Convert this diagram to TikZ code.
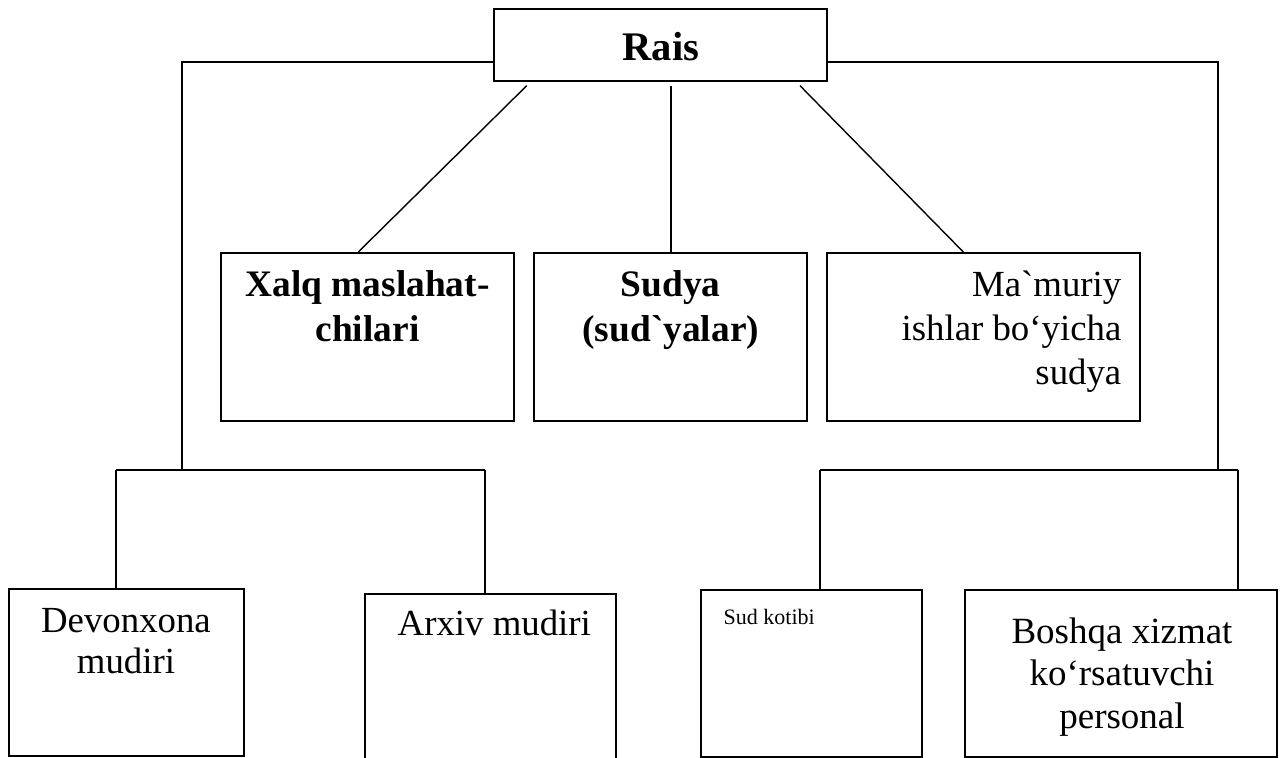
\documentclass[tikz,border=0pt]{standalone}
\usepackage{fontspec}
\setmainfont{Liberation Serif}[Ligatures=TeXOff]
\usetikzlibrary{fit}
\begin{document}
\begin{tikzpicture}[x=0.5pt,y=-0.5pt,
  box/.style={draw, line width=1pt, inner sep=0pt, rectangle},
  conn/.style={line width=1pt},
  diag/.style={line width=0.7pt},
  boldtxt/.style={font=\fontsize{18.7}{22.5}\selectfont\bfseries, align=center, anchor=base, inner sep=0pt},
  plaintxt/.style={font=\fontsize{18.4}{21}\selectfont, align=center, anchor=base, inner sep=0pt}]
\useasboundingbox (0,0) rectangle (1283,758);
\fill[white] (0,0) rectangle (1283,758);
\clip (0,0) rectangle (1283,758);

% boxes
\node[box, fit={(494,9) (827,81)}] (rais) {};
\node[box, fit={(221,253) (514,421.5)}] (xalq) {};
\node[box, fit={(534,253) (807,421.5)}] (sudya) {};
\node[box, fit={(826.5,253) (1140,421.5)}] (mamur) {};
\node[box, fit={(8.5,588.5) (243.5,755.5)}] (devon) {};
\node[box, fit={(365,593.5) (616,775)}] (arxiv) {};
\node[box, fit={(701,590) (922,756.5)}] (kotib) {};
\node[box, fit={(964.5,590) (1276.5,756.5)}] (boshqa) {};

% texts (anchor base = baseline of the last line)
\node[font=\fontsize{20.3}{24}\selectfont\bfseries, anchor=base, inner sep=0pt] (raist) at (661,61) {Rais};
\node[boldtxt] (xalqt) at (367.5,341.7) {Xalq maslahat-\\chilari};
\node[boldtxt] (sudyat) at (670.8,341.7) {Sudya\\(sud`yalar)};
\node[plaintxt, align=right, anchor=base east, font=\fontsize{18.4}{22}\selectfont] (mamurt) at (1121.7,385) {Ma`muriy\\ishlar bo‘yicha\\sudya};
\node[plaintxt, font=\fontsize{18.4}{20.5}\selectfont] (devont) at (126,673.3) {Devonxona\\mudiri};
\node[plaintxt] (arxivt) at (494.3,635.7) {Arxiv mudiri};
\node[font=\fontsize{11}{13}\selectfont, anchor=base west, inner sep=0pt] (kotibt) at (723.3,624) {Sud kotibi};
\node[plaintxt, font=\fontsize{18.5}{21.25}\selectfont] (boshqat) at (1122,728.3) {Boshqa xizmat\\ko‘rsatuvchi\\personal};

% coordinates
\coordinate (ty) at (0,62);
\coordinate (lj) at (181.7,469.5);
\coordinate (lbl) at (115.5,469.5);
\coordinate (lbr) at (485,469.5);
\coordinate (rj) at (1218.3,469.5);
\coordinate (rbl) at (820,469.5);
\coordinate (rbr) at (1237.7,469.5);
\coordinate (d1) at (526.7,85.7);
\coordinate (d2) at (671,85.7);
\coordinate (d3) at (800,85.7);
\coordinate (e1) at (358.3,0);
\coordinate (e3) at (963.3,0);

% connectors
\draw[conn] (rais.west |- ty) -| (lj);
\draw[conn] (rais.east |- ty) -| (rj);
\draw[conn] (lbl) -- (lbr);
\draw[conn] (lbl) -- (lbl |- devon.north);
\draw[conn] (lbr) -- (lbr |- arxiv.north);
\draw[conn] (rbl) -- (rbr);
\draw[conn] (rbl) -- (rbl |- kotib.north);
\draw[conn] (rbr) -- (rbr |- boshqa.north);
\draw[diag] (d1) -- (e1 |- xalq.north);
\draw[diag] (d2) -- (d2 |- sudya.north);
\draw[diag] (d3) -- (e3 |- mamur.north);
\end{tikzpicture}
\end{document}
